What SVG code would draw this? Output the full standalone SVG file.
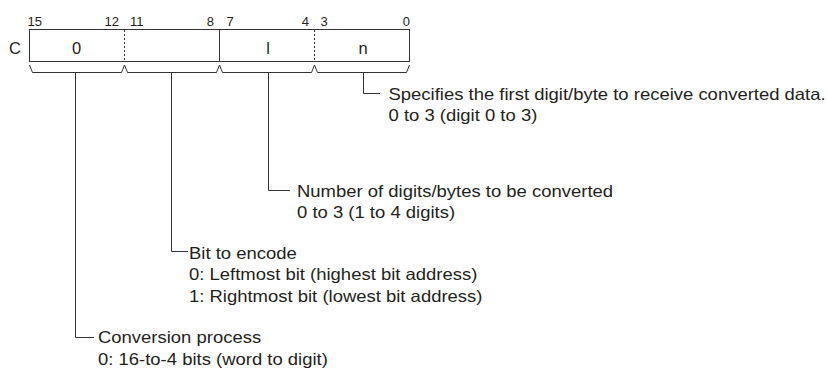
<svg xmlns="http://www.w3.org/2000/svg" width="827" height="369" viewBox="0 0 827 369">
  <style>
    .t { font-family: "Liberation Sans", Arial, sans-serif; font-size: 16.5px; fill: #231f20; }
    .bit { font-family: "Liberation Sans", Arial, sans-serif; font-size: 13px; fill: #231f20; }
    .fld { font-family: "Liberation Sans", Arial, sans-serif; font-size: 16.5px; fill: #231f20; text-anchor: middle; }
    .ln { fill: none; stroke: #333; stroke-width: 1; }
    .dot { fill: none; stroke: #333; stroke-width: 1; stroke-dasharray: 2 2; }
  </style>
  <rect width="827" height="369" fill="#ffffff"/>

  <g id="register">
    <text class="bit" x="27.5" y="26">15</text>
    <text class="bit" x="119" y="26" text-anchor="end">12</text>
    <text class="bit" x="130" y="26">11</text>
    <text class="bit" x="214" y="26" text-anchor="end">8</text>
    <text class="bit" x="226.5" y="26">7</text>
    <text class="bit" x="309" y="26" text-anchor="end">4</text>
    <text class="bit" x="320.5" y="26">3</text>
    <text class="bit" x="410" y="26" text-anchor="end">0</text>
    <text class="t" x="9" y="53.5">C</text>
    <rect class="ln" x="29.5" y="29.5" width="380" height="32"/>
    <line class="dot" x1="124.5" y1="30" x2="124.5" y2="61"/>
    <line class="ln" x1="219.5" y1="30" x2="219.5" y2="61"/>
    <line class="dot" x1="314.5" y1="30" x2="314.5" y2="61"/>
    <text class="fld" x="76.5" y="53.5">0</text>
    <text class="fld" x="268" y="53.5">l</text>
    <text class="fld" x="363" y="53.5">n</text>
  </g>

  <g id="braces">
    <path class="ln" d="M29.5,65 L32.5,72.5 H121.5 L124.5,65"/>
    <path class="ln" d="M124.5,65 L127.5,72.5 H216.5 L219.5,65"/>
    <path class="ln" d="M219.5,65 L222.5,72.5 H311.5 L314.5,65"/>
    <path class="ln" d="M314.5,65 L317.5,72.5 H406.5 L409.5,65"/>
  </g>

  <g id="connectors">
    <path class="ln" d="M363.5,72.5 V93.5 H380"/>
    <path class="ln" d="M268.5,72.5 V190.5 H290"/>
    <path class="ln" d="M171.5,72.5 V251.5 H188"/>
    <path class="ln" d="M75.5,72.5 V337.5 H94"/>
  </g>

  <g id="note-first-digit">
    <text class="t" transform="translate(388.5,99.5) scale(1.12,1)">Specifies the first digit/byte to receive converted data.<tspan x="0" dy="22">0 to 3 (digit 0 to 3)</tspan></text>
  </g>

  <g id="note-number-of-digits">
    <text class="t" transform="translate(297,196.5) scale(1.12,1)">Number of digits/bytes to be converted<tspan x="0" dy="22">0 to 3 (1 to 4 digits)</tspan></text>
  </g>

  <g id="note-bit-to-encode">
    <text class="t" transform="translate(189,258.5) scale(1.12,1)">Bit to encode<tspan x="0" dy="22">0: Leftmost bit (highest bit address)</tspan><tspan x="0" dy="22">1: Rightmost bit (lowest bit address)</tspan></text>
  </g>

  <g id="note-conversion-process">
    <text class="t" transform="translate(98,343) scale(1.12,1)">Conversion process<tspan x="0" dy="22">0: 16-to-4 bits (word to digit)</tspan></text>
  </g>
</svg>
